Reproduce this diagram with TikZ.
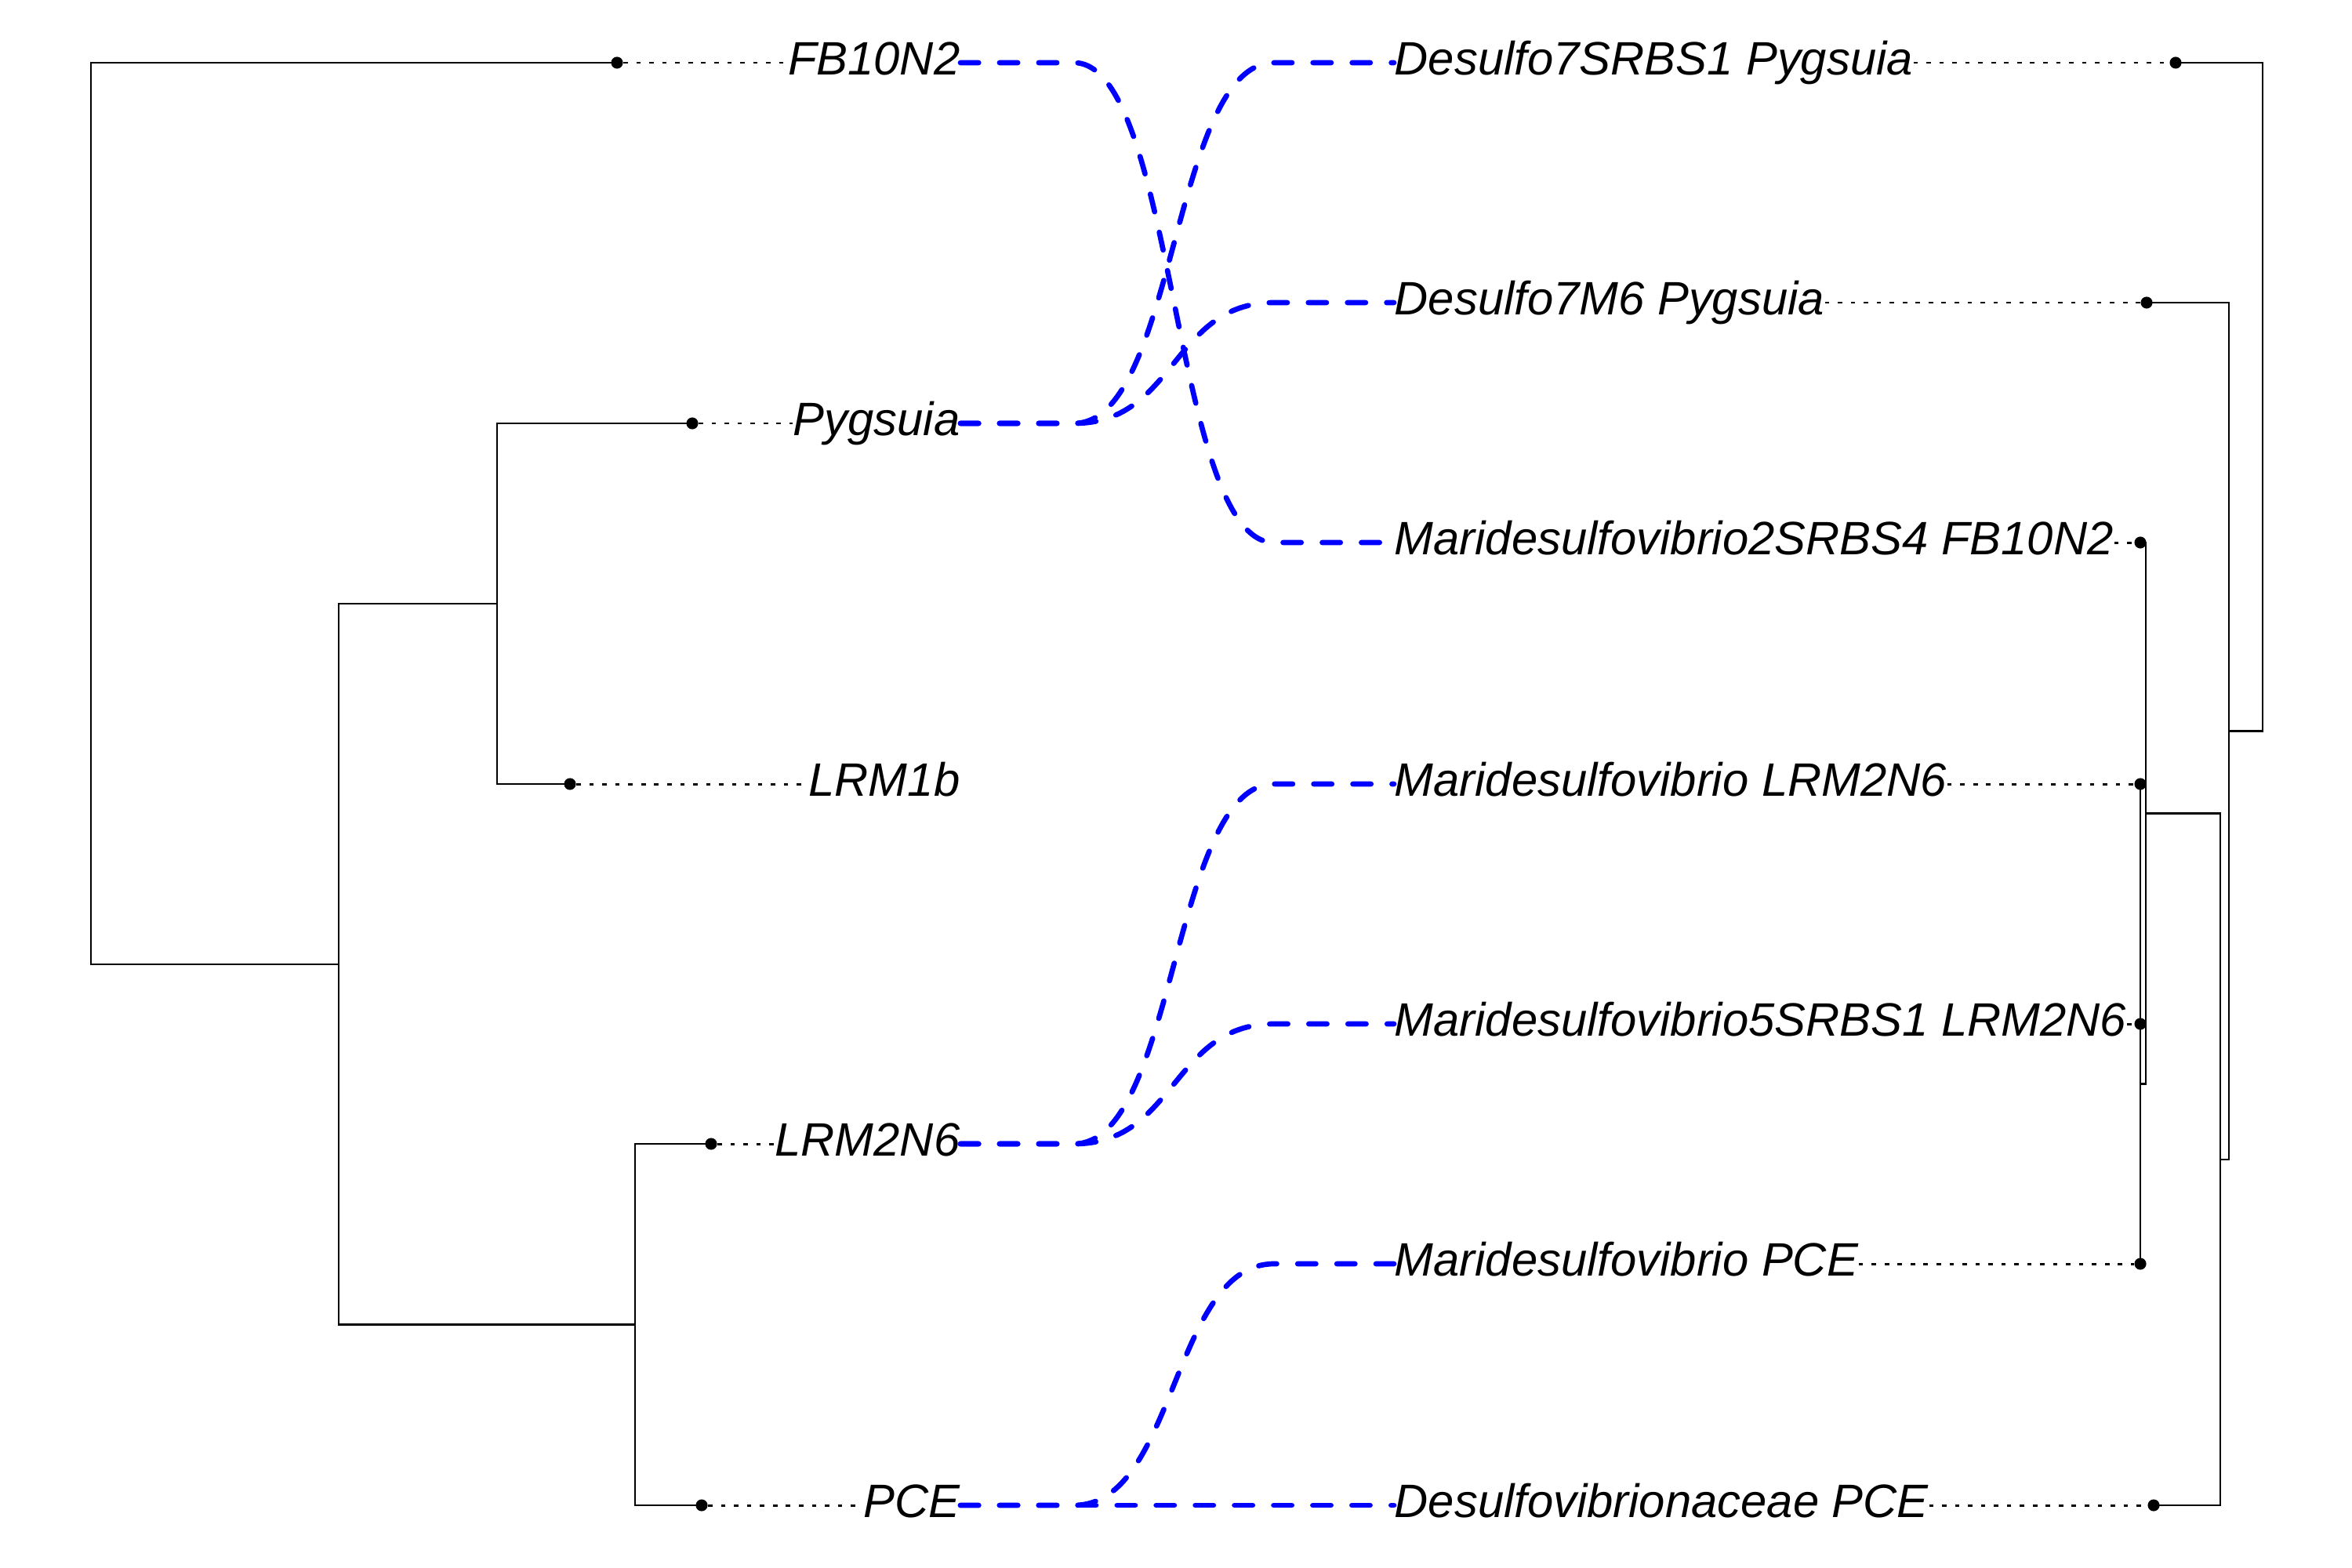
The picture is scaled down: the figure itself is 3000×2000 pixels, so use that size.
\documentclass[tikz,border=0pt]{standalone}
\usepackage{fontspec}
\setmainfont{Liberation Sans}
\usepackage{tikz}
\usetikzlibrary{calc}
\tikzset{branch/.style={draw,line width=0.8pt}}
\tikzset{tip/.style={circle,fill,inner sep=0pt,minimum size=4.3pt}}
\tikzset{taxon/.style={inner sep=0pt,text height=12.2pt,text depth=3.2pt,font=\fontsize{17}{20}\selectfont\itshape}}
\tikzset{leader/.style={draw,line width=0.85pt,dash pattern=on 1.6pt off 3.1pt}}
\tikzset{tangle/.style={draw=blue,line width=1.9pt,line cap=round,dash pattern=on 6.6pt off 7.6pt,to path={-- ++(145,0) .. controls +(130,0) and +(-130,0) .. ($(\tikztotarget)+(-153,0)$) -- (\tikztotarget)}}}

\begin{document}
\begin{tikzpicture}[x=0.01cm, y=-0.01cm]
                    \useasboundingbox (0, 0) rectangle (3000, 2000);
                    %\draw[help lines] (0, 0) grid[step=100] (3000, 2000);

                    % left tree
                    \node[tip] at (787, 80) (tFB){};
                    \node[tip] at (883, 540) (tPyg){};
                    \node[tip] at (727, 1000) (tLRMb){};
                    \node[tip] at (907, 1459) (tLRM){};
                    \node[tip] at (895, 1920) (tPCE){};
                    \coordinate (nPL) at (634, 770);
                    \coordinate (nLP) at (810, 1689.5);
                    \coordinate (nIn) at (432, 1230);
                    \coordinate (nRoot) at (116, 1230);

                    \draw[branch] (tPyg.center) -| (nPL) |- (tLRMb.center);
                    \draw[branch] (tLRM.center) -| (nLP) |- (tPCE.center);
                    \draw[branch] (nPL) -| (nIn) |- (nLP);
                    \draw[branch] (tFB.center) -| (nRoot) |- (nIn);

                    \node[taxon, anchor=east] at (1225, 80) (lFB){FB10N2};
                    \node[taxon, anchor=east] at (1225, 540) (lPyg){Pygsuia};
                    \node[taxon, anchor=east] at (1225, 1000) (lLRMb){LRM1b};
                    \node[taxon, anchor=east] at (1225, 1459) (lLRM){LRM2N6};
                    \node[taxon, anchor=east] at (1225, 1920) (lPCE){PCE};

                    \draw[leader] (tFB) -- (lFB.west);
                    \draw[leader] (tPyg) -- (lPyg.west);
                    \draw[leader] (tLRMb) -- (lLRMb.west);
                    \draw[leader] (tLRM) -- (lLRM.west);
                    \draw[leader] (tPCE) -- (lPCE.west);

                    % right tree
                    \node[tip] at (2775, 80) (tS1){};
                    \node[tip] at (2738, 386) (tM6){};
                    \node[tip] at (2730, 692) (t2S4){};
                    \node[tip] at (2730, 1000) (tMLRM){};
                    \node[tip] at (2730, 1306) (t5S1){};
                    \node[tip] at (2730, 1612) (tMPCE){};
                    \node[tip] at (2747, 1920) (tDes){};
                    \coordinate (mE) at (2730, 1153);
                    \coordinate (mD) at (2730, 1382.5);
                    \coordinate (mC) at (2737, 1037.5);
                    \coordinate (mB) at (2832, 1479);
                    \coordinate (mA) at (2843, 932.5);
                    \coordinate (mRoot) at (2886, 506);

                    \draw[branch] (tMLRM.center) -| (mE) |- (t5S1.center);
                    \draw[branch] (mE) -| (mD) |- (tMPCE.center);
                    \draw[branch] (t2S4.center) -| (mC) |- (mD);
                    \draw[branch] (mC) -| (mB) |- (tDes.center);
                    \draw[branch] (tM6.center) -| (mA) |- (mB);
                    \draw[branch] (tS1.center) -| (mRoot) |- (mA);

                    \node[taxon, anchor=west] at (1778, 80) (rS1){Desulfo7SRBS1 Pygsuia};
                    \node[taxon, anchor=west] at (1778, 386) (rM6){Desulfo7M6 Pygsuia};
                    \node[taxon, anchor=west] at (1778, 692) (r2S4){Maridesulfovibrio2SRBS4 FB10N2};
                    \node[taxon, anchor=west] at (1778, 1000) (rMLRM){Maridesulfovibrio LRM2N6};
                    \node[taxon, anchor=west] at (1778, 1306) (r5S1){Maridesulfovibrio5SRBS1 LRM2N6};
                    \node[taxon, anchor=west] at (1778, 1612) (rMPCE){Maridesulfovibrio PCE};
                    \node[taxon, anchor=west] at (1778, 1920) (rDes){Desulfovibrionaceae PCE};

                    \draw[leader] (rS1.east) -- (tS1);
                    \draw[leader] (rM6.east) -- (tM6);
                    \draw[leader] (r2S4.east) -- (t2S4);
                    \draw[leader] (rMLRM.east) -- (tMLRM);
                    \draw[leader] (r5S1.east) -- (t5S1);
                    \draw[leader] (rMPCE.east) -- (tMPCE);
                    \draw[leader] (rDes.east) -- (tDes);

                    % links between the two trees
                    \draw[tangle] (lFB.east) to (r2S4.west);
                    \draw[tangle] (lPyg.east) to (rS1.west);
                    \draw[tangle] (lPyg.east) to (rM6.west);
                    \draw[tangle] (lLRM.east) to (rMLRM.west);
                    \draw[tangle] (lLRM.east) to (r5S1.west);
                    \draw[tangle] (lPCE.east) to (rMPCE.west);
                    \draw[tangle] (lPCE.east) to (rDes.west);

                \end{tikzpicture}
\end{document}
